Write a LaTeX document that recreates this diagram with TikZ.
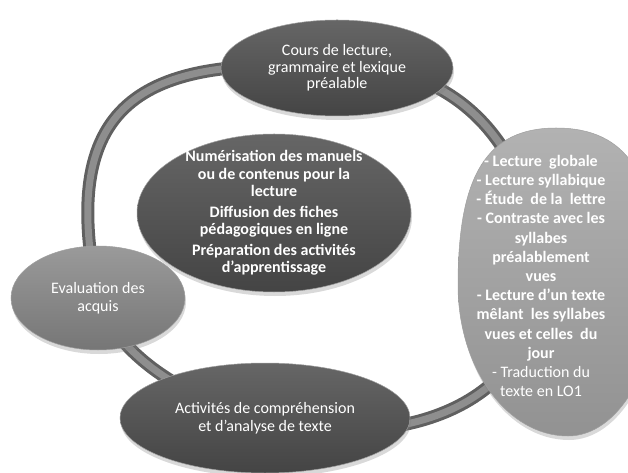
\documentclass[tikz,border=0pt]{standalone}
\usepackage{fontspec}
\setmainfont{Carlito}
\usetikzlibrary{shapes.geometric,shadows,backgrounds}
\definecolor{darktop}{HTML}{666666}
\definecolor{darkbot}{HTML}{444444}
\definecolor{midtop}{HTML}{9A9A9A}
\definecolor{midbot}{HTML}{767676}
\definecolor{lighttop}{HTML}{B2B2B2}
\definecolor{lightbot}{HTML}{929292}
\definecolor{ringedge}{HTML}{606060}
\definecolor{ringfill}{HTML}{8E8E8E}

\begin{document}
\begin{tikzpicture}[x=1bp,y=-1bp]
    \tikzstyle{shade}=[draw=white!25!gray,line width=0.5bp,drop shadow={opacity=0.3,shadow xshift=1bp,shadow yshift=-4bp}]
    \tikzstyle{bubble}=[ellipse,inner sep=-18bp,text=white,align=center,shade]
    \tikzstyle{darkbubble}=[bubble,top color=darktop,bottom color=darkbot]
    \tikzstyle{midbubble}=[bubble,top color=midtop,bottom color=midbot]
    \tikzstyle{lightblob}=[shade,top color=lighttop,bottom color=lightbot]
    \tikzstyle{ring}=[line width=3bp,draw=ringedge,double=ringfill,double distance=7bp]
    \useasboundingbox (0,0) rectangle (628,473);
    \node[darkbubble,minimum width=232bp,minimum height=96bp,font=\fontsize{16bp}{16.5bp}\selectfont] (cours) at (337,68) {Cours de lecture,\\grammaire et lexique\\préalable};
    \node[darkbubble,minimum width=274bp,minimum height=158bp,font=\fontsize{16bp}{17.5bp}\selectfont\bfseries] (numerisation) at (274,213) {Numérisation des manuels\\ou de contenus pour la\\lecture\\[3bp]Diffusion des fiches\\pédagogiques en ligne\\[3bp]Préparation des activités\\d’apprentissage};
    \node[midbubble,minimum width=174bp,minimum height=104bp,font=\fontsize{16bp}{18bp}\selectfont] (evaluation) at (98,298) {Evaluation des\\acquis};
    \node[darkbubble,minimum width=290bp,minimum height=110bp,font=\fontsize{16bp}{18bp}\selectfont] (activites) at (265,418) {Activités de compréhension\\et d’analyse de texte};
    % egg shaped bubble on the right
    \path[lightblob] (556,128) .. controls (487,128) and (458,175) .. (458,285)
      .. controls (458,368) and (507,436) .. (568,436)
      .. controls (618,436) and (658,368) .. (658,285)
      .. controls (658,175) and (627,128) .. cycle;
    \node[text=white,align=center,inner sep=0pt,font=\fontsize{16bp}{19.2bp}\selectfont\bfseries] (lecture) at (541,276) {- Lecture~ globale\\- Lecture syllabique\\- Étude~ de la~ lettre\\- Contraste avec les\\syllabes\\préalablement\\vues\\- Lecture d’un texte\\mêlant~ les syllabes\\vues et celles~ du\\jour\\\mdseries - Traduction du\\\mdseries texte en LO1};
    \begin{pgfonlayer}{background}
    \draw[ring] (cours.center) .. controls (420,60) and (530,110) .. (lecture.center);
    \draw[ring] (lecture.center) .. controls (535,415) and (385,452) .. (activites.center);
    \draw[ring] (activites.center) .. controls (165,395) and (110,340) .. (evaluation.center);
    \draw[ring] (evaluation.center) .. controls (55,95) and (150,55) .. (cours.center);
    \end{pgfonlayer}
  \end{tikzpicture}
\end{document}
